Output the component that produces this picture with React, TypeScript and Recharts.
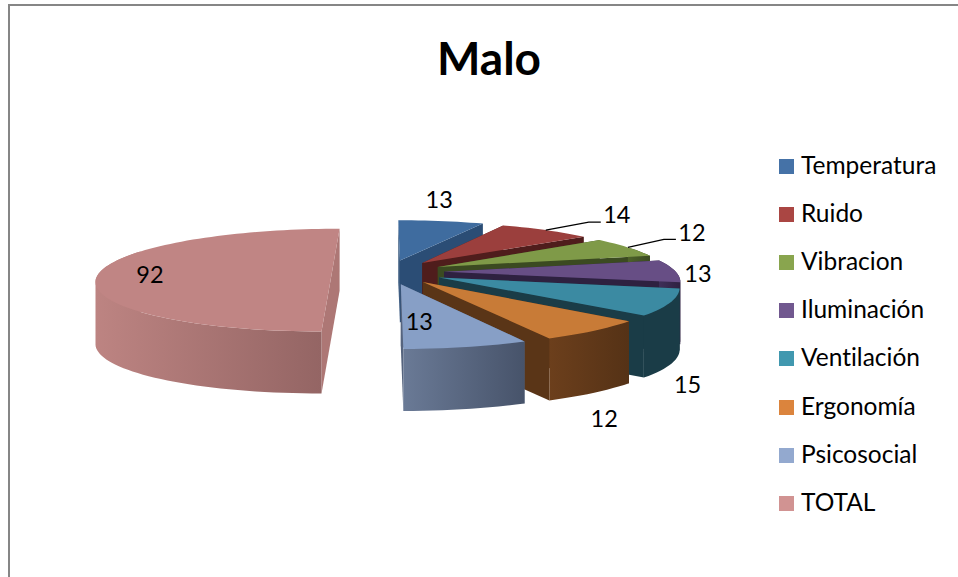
import React from "react";
import { PieChart, Pie, Cell, Legend } from "recharts";

const categories = ["Temperatura", "Ruido", "Vibracion", "Iluminación", "Ventilación", "Ergonomía", "Psicosocial", "TOTAL"];
const values = [13, 14, 12, 13, 15, 12, 13, 92];
const legendColors = ["#4572a7", "#aa4643", "#89a54e", "#71588f", "#4198af", "#db843d", "#93a9cf", "#d19392"];
const topColors = ["#3f6c9f", "#9b3f3d", "#7f9a48", "#674e85", "#3b8aa2", "#c87b37", "#879fc6", "#c08584"];
const faceColors = ["#2b4d75", "#4f1d1c", "#3b4a21", "#2e2140", "#1a3c47", "#5a3517", "#56647e", "#ad7775"];
const wallFrom = ["#2b4d75", "#6b2b2a", "#4d6129", "#3f2f59", "#1a3c47", "#6c3f1c", "#6a7a96", "#bd8482"];
const wallTo = ["#2b4d75", "#4f1d1c", "#3b4a21", "#2e2140", "#1a3c47", "#553216", "#47536a", "#946564"];

// value-label placement relative to each slice's rim midpoint
const labelNudgeX = [-2, 71, 64, 23, 17, 10, -47, 50];
const labelNudgeY = [-22, -16, -15, 2, 82, 87, -26, 2];
const hasLeader = [false, true, true, false, false, false, false, false];
const leaderRun = [0, 43, 36, 0, 0, 0, 0, 0];

const FONT = "Lato, Carlito, sans-serif";
const CX = 388;
const CY = 272;
const RADIUS = 232;
const EXPLODE = 56;
const DEPTH = 62;
const PERSP = 0.00068;
const TILT = 0.216;
const RAD = Math.PI / 180;

const project = (cx: number, cy: number, X: number, Y: number): [number, number] => {
  const w = 1 / (1 - PERSP * Y);
  return [cx + X * w, cy + TILT * Y * w];
};

const rimPoint = (cx: number, cy: number, r: number, mid: number, a: number) => {
  const X = EXPLODE * Math.cos(mid * RAD) + r * Math.cos(a * RAD);
  const Y = -EXPLODE * Math.sin(mid * RAD) - r * Math.sin(a * RAD);
  return project(cx, cy, X, Y);
};

const toPath = (pts: [number, number][]) =>
  "M" + pts.map((p) => `${p[0].toFixed(1)},${p[1].toFixed(1)}`).join("L") + "Z";

const drop = (pts: [number, number][]) => pts.map((p) => [p[0], p[1] + DEPTH] as [number, number]);

// The outer wall as one path of same-wound quads, so overlapping pieces never cancel out.
const wallPath = (pts: [number, number][]) => {
  let d = "";
  for (let k = 0; k + 1 < pts.length; k++) {
    const [l, r] = pts[k][0] <= pts[k + 1][0] ? [pts[k], pts[k + 1]] : [pts[k + 1], pts[k]];
    d += toPath([l, r, ...drop([r, l])]);
  }
  return d;
};

const Slice3D = (props: any) => {
  const { cx, cy, outerRadius, startAngle, endAngle, name } = props;
  const i = categories.indexOf(name);
  const mid = (startAngle + endAngle) / 2;
  const apex = rimPoint(cx, cy, 0, mid, 0);
  const arc: [number, number][] = [];
  const wallArc: [number, number][] = [];
  const n = Math.max(2, Math.ceil(Math.abs(endAngle - startAngle) / 2));
  for (let k = 0; k <= n; k++) {
    const a = startAngle + ((endAngle - startAngle) * k) / n;
    const p = rimPoint(cx, cy, outerRadius, mid, a);
    arc.push(p);
    if (Math.sin(a * RAD) < 0.45) wallArc.push(p);
  }
  const first = arc[0];
  const last = arc[arc.length - 1];
  const gid = `wall-${i}`;
  return (
    <g>
      <defs>
        <linearGradient id={gid} x1="0" y1="0" x2="1" y2="0">
          <stop offset="0%" stopColor={wallFrom[i]} />
          <stop offset="100%" stopColor={wallTo[i]} />
        </linearGradient>
      </defs>
      <path d={toPath([apex, first, ...drop([first, apex])])} fill={faceColors[i]} />
      <path d={toPath([apex, last, ...drop([last, apex])])} fill={faceColors[i]} />
      {wallArc.length > 1 && <path d={wallPath(wallArc)} fill={`url(#${gid})`} />}
      <path d={toPath([apex, ...arc])} fill={topColors[i]} />
    </g>
  );
};

const renderLabel = (props: any) => {
  const { cx, cy, outerRadius, startAngle, endAngle, value, index } = props;
  const mid = (startAngle + endAngle) / 2;
  const [ax, ay] = rimPoint(cx, cy, outerRadius, mid, mid);
  const tx = ax + labelNudgeX[index];
  const ty = ay + labelNudgeY[index];
  return (
    <g key={index}>
      {hasLeader[index] && (
        <polyline
          points={`${ax},${ay} ${ax + leaderRun[index]},${ay - 8} ${tx - 16},${ay - 8}`}
          fill="none"
          stroke="#000"
          strokeWidth={1.3}
        />
      )}
      <text x={tx} y={ty} textAnchor="middle" dominantBaseline="central" fontFamily={FONT} fontSize={23.5} fill="#000">
        {value}
      </text>
    </g>
  );
};

const LegendList = ({ payload }: any) => (
  <div style={{ fontFamily: FONT, fontSize: 24.5, color: "#000", fontVariantLigatures: "none" }}>
    {(payload || []).map((e: any) => (
      <div key={e.value} style={{ height: 48.2, display: "flex", alignItems: "center" }}>
        <span style={{ width: 15, height: 15, background: e.color, marginRight: 7, display: "inline-block" }} />
        <span style={{ position: "relative", top: -2 }}>{e.value}</span>
      </div>
    ))}
  </div>
);

const data = categories.map((name, i) => ({ name, value: values[i] }));

export default function App() {
  return (
    <div style={{ position: "absolute", left: 0, top: 0, width: 958, height: 577, overflow: "hidden", background: "#fff" }}>
      <div style={{ position: "absolute", left: 8, top: 4, right: 0, bottom: 0, borderTop: "2px solid #868686", borderLeft: "2px solid #868686" }} />
      <div style={{ position: "absolute", left: 0, top: 0 }}>
        <PieChart width={958} height={577} margin={{ top: 0, right: 0, bottom: 0, left: 0 }}>
          <text x={489} y={57} textAnchor="middle" dominantBaseline="central" fontFamily={FONT} fontWeight={700} fontSize={46} fill="#000">
            Malo
          </text>
          <Pie
            data={data}
            dataKey="value"
            nameKey="name"
            cx={CX}
            cy={CY}
            innerRadius={0}
            outerRadius={RADIUS}
            startAngle={90}
            endAngle={-270}
            stroke="none"
            isAnimationActive={false}
            shape={Slice3D}
            label={renderLabel}
            labelLine={false}
          >
            {categories.map((c, i) => (
              <Cell key={c} fill={legendColors[i]} />
            ))}
          </Pie>
          <Legend
            layout="vertical"
            align="right"
            verticalAlign="top"
            itemSorter={null}
            content={LegendList}
            wrapperStyle={{ left: 779, right: "auto", top: 142, width: 178 }}
          />
        </PieChart>
      </div>
    </div>
  );
}
